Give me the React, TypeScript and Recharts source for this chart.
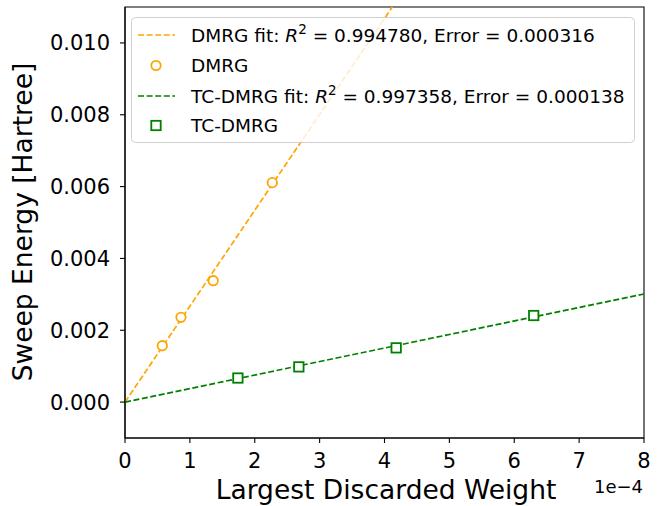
import React from 'react';
import { ComposedChart, Line, Scatter, XAxis, YAxis, ReferenceArea } from 'recharts';

// Tick values
const xTickValues = [0, 0.0001, 0.0002, 0.0003, 0.0004, 0.0005, 0.0006, 0.0007, 0.0008];
const yTickValues = [0, 0.002, 0.004, 0.006, 0.008, 0.01];

// DMRG measured points
const dmrgX = [0.575e-4, 0.863e-4, 1.36e-4, 2.27e-4];
const dmrgY = [1.57e-3, 2.36e-3, 3.38e-3, 6.11e-3];

// TC-DMRG measured points
const tcX = [1.74e-4, 2.68e-4, 4.18e-4, 6.3e-4];
const tcY = [0.67e-3, 0.98e-3, 1.51e-3, 2.41e-3];

// Fit line endpoints
const dmrgFitX = [0, 8e-4];
const dmrgFitY = [0, 0.02136];
const tcFitX = [0, 8e-4];
const tcFitY = [0, 0.00301];

const legendLabels = [
  { name: 'DMRG fit', r2: '0.994780', err: '0.000316' },
  { name: 'DMRG' },
  { name: 'TC-DMRG fit', r2: '0.997358', err: '0.000138' },
  { name: 'TC-DMRG' },
];

const ORANGE = '#FFA500';
const GREEN = '#008000';
const FONT = 'DejaVu Sans';
const DASH = '6 2.6';

const zip = (xs: number[], ys: number[]) => xs.map((x, i) => ({ x, y: ys[i] }));

const dmrgData = zip(dmrgX, dmrgY);
const tcData = zip(tcX, tcY);
const dmrgFit = zip(dmrgFitX, dmrgFitY);
const tcFit = zip(tcFitX, tcFitY);

const CircleShape = (props: any) => {
  const { cx, cy } = props;
  return <circle cx={cx} cy={cy} r={4.7} fill="#fff" stroke={ORANGE} strokeWidth={1.8} />;
};
const SquareShape = (props: any) => {
  const { cx, cy } = props;
  return <rect x={cx - 4.7} y={cy - 4.7} width={9.4} height={9.4} fill="#fff" stroke={GREEN} strokeWidth={1.8} />;
};

const Legend = () => {
  const rows = [35, 65.5, 96, 125.5];
  const fs = 18.5;
  return (
    <svg width={664} height={506} style={{ position: 'absolute', left: 0, top: 0, pointerEvents: 'none' }}>
      <rect x={131.5} y={17.5} width={503} height={125} rx={4} ry={4} fill="rgba(255,255,255,0.8)" stroke="#d0d0d0" strokeWidth={1} />
      {legendLabels.map((l, i) => {
        const cy = rows[i];
        const color = i < 2 ? ORANGE : GREEN;
        const isFit = !!l.r2;
        return (
          <g key={i}>
            {isFit ? (
              <line x1={138} x2={175} y1={cy} y2={cy} stroke={color} strokeWidth={1.7} strokeDasharray={DASH} />
            ) : i === 1 ? (
              <circle cx={156} cy={cy} r={4.7} fill="#fff" stroke={ORANGE} strokeWidth={1.8} />
            ) : (
              <rect x={151.3} y={cy - 4.7} width={9.4} height={9.4} fill="#fff" stroke={GREEN} strokeWidth={1.8} />
            )}
            <text x={191} y={cy + 6.7} fontFamily={FONT} fontSize={fs} fill="#000">
              {isFit ? (
                <>
                  <tspan>{l.name}: </tspan>
                  <tspan fontStyle="italic">R</tspan>
                  <tspan dy={-7.5} fontSize={13.5}>2</tspan>
                  <tspan dy={7.5}>{` = ${l.r2}, Error = ${l.err}`}</tspan>
                </>
              ) : (
                l.name
              )}
            </text>
          </g>
        );
      })}
    </svg>
  );
};

export default function App() {
  const tickStyle = { fontFamily: FONT, fontSize: 21, fill: '#000' };
  return (
    <div style={{ position: 'absolute', left: 0, top: 0, width: 664, height: 506, background: '#fff' }}>
      <ComposedChart width={664} height={506} margin={{ top: 7, right: 20, bottom: 0, left: 0 }}>
        <XAxis
          dataKey="x"
          type="number"
          domain={[0, 0.0008]}
          ticks={xTickValues}
          allowDataOverflow
          tickFormatter={(v: number) => String(Math.round(v * 1e4))}
          tick={tickStyle}
          tickSize={5}
          tickMargin={10}
          height={68}
          stroke="#000"
          strokeWidth={1.1}
          tickLine={{ stroke: '#000', strokeWidth: 1.1 }}
          label={{
            content: () => (
              <g>
                <text x={386} y={499} textAnchor="middle" fontFamily={FONT} fontSize={26.5} fill="#000">
                  Largest Discarded Weight
                </text>
                <text x={643} y={493} textAnchor="end" fontFamily={FONT} fontSize={18} fill="#000">
                  1e−4
                </text>
              </g>
            ),
          }}
        />
        <YAxis
          dataKey="y"
          type="number"
          domain={[-0.001, 0.011]}
          ticks={yTickValues}
          allowDataOverflow
          tickFormatter={(v: number) => v.toFixed(3)}
          tick={tickStyle}
          tickSize={5}
          tickMargin={10}
          width={125}
          stroke="#000"
          strokeWidth={1.1}
          tickLine={{ stroke: '#000', strokeWidth: 1.1 }}
          label={{
            content: () => (
              <text
                x={32}
                y={222}
                transform="rotate(-90 32 222)"
                textAnchor="middle"
                fontFamily={FONT}
                fontSize={26.5}
                fill="#000"
              >
                Sweep Energy [Hartree]
              </text>
            ),
          }}
        />
        <ReferenceArea x1={0} x2={0.0008} y1={-0.001} y2={0.011} fill="none" stroke="#000" strokeWidth={1.1} ifOverflow="visible" />
        <Line data={dmrgFit} dataKey="y" type="linear" stroke={ORANGE} strokeWidth={1.7} strokeDasharray={DASH} dot={false} activeDot={false} isAnimationActive={false} />
        <Line data={tcFit} dataKey="y" type="linear" stroke={GREEN} strokeWidth={1.7} strokeDasharray={DASH} dot={false} activeDot={false} isAnimationActive={false} />
        <Scatter data={dmrgData} dataKey="y" shape={<CircleShape />} isAnimationActive={false} />
        <Scatter data={tcData} dataKey="y" shape={<SquareShape />} isAnimationActive={false} />
      </ComposedChart>
      <Legend />
    </div>
  );
}
